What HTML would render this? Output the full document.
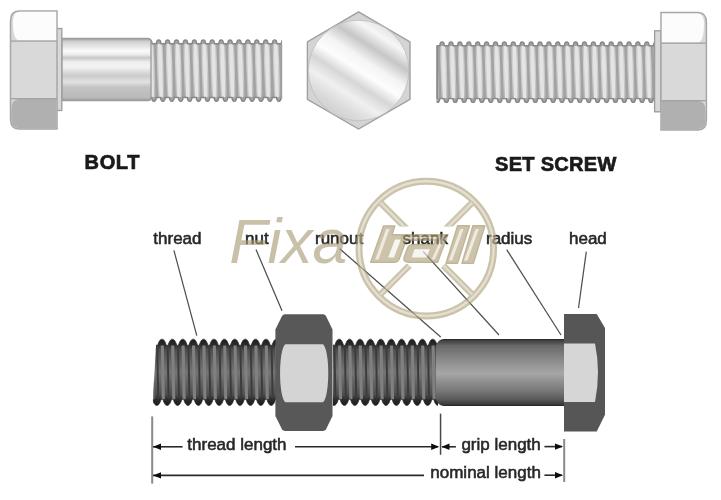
<!DOCTYPE html><html><head><meta charset="utf-8"><style>
html,body{margin:0;padding:0;background:#fff;width:721px;height:500px;overflow:hidden}
svg{display:block}
text{font-family:"Liberation Sans",sans-serif}
</style></head><body>
<svg width="721" height="500" viewBox="0 0 721 500">
<defs>
<filter id="soft" x="-2%" y="-2%" width="104%" height="104%"><feGaussianBlur stdDeviation="0.7"/></filter>
<linearGradient id="shankT" x1="0" y1="0" x2="0" y2="1">
<stop offset="0" stop-color="#a0a0a0"/><stop offset="0.05" stop-color="#d0d0d0"/>
<stop offset="0.12" stop-color="#e4e4e4"/><stop offset="0.2" stop-color="#fafafa"/>
<stop offset="0.26" stop-color="#ececec"/><stop offset="0.31" stop-color="#c8c8c8"/>
<stop offset="0.38" stop-color="#eeeeee"/><stop offset="0.46" stop-color="#f2f2f2"/>
<stop offset="0.6" stop-color="#cbcbcb"/><stop offset="0.7" stop-color="#e2e2e2"/>
<stop offset="0.78" stop-color="#c4c4c4"/><stop offset="0.95" stop-color="#bababa"/>
<stop offset="1" stop-color="#999"/>
</linearGradient>
<linearGradient id="thrT" x1="0" y1="0" x2="0" y2="1">
<stop offset="0" stop-color="#a8a8a8"/><stop offset="0.12" stop-color="#c4c4c4"/><stop offset="0.35" stop-color="#d2d2d2"/>
<stop offset="0.65" stop-color="#cacaca"/><stop offset="0.88" stop-color="#bcbcbc"/><stop offset="1" stop-color="#9c9c9c"/>
</linearGradient>
<linearGradient id="hexC" gradientUnits="userSpaceOnUse" x1="386.1" y1="27.7" x2="331.1" y2="113.3">
<stop offset="0" stop-color="#e4e4e4"/><stop offset="0.1" stop-color="#f6f6f6"/>
<stop offset="0.24" stop-color="#c6c6c6"/><stop offset="0.38" stop-color="#f4f4f4"/>
<stop offset="0.5" stop-color="#fdfdfd"/><stop offset="0.62" stop-color="#d6d6d6"/>
<stop offset="0.75" stop-color="#f0f0f0"/><stop offset="0.88" stop-color="#dcdcdc"/>
<stop offset="1" stop-color="#cfcfcf"/>
</linearGradient>
<linearGradient id="shankB" x1="0" y1="0" x2="0" y2="1">
<stop offset="0" stop-color="#262626"/><stop offset="0.03" stop-color="#444"/>
<stop offset="0.1" stop-color="#686868"/><stop offset="0.25" stop-color="#808080"/>
<stop offset="0.42" stop-color="#9a9a9a"/><stop offset="0.52" stop-color="#a6a6a6"/>
<stop offset="0.62" stop-color="#929292"/><stop offset="0.78" stop-color="#767676"/>
<stop offset="0.9" stop-color="#5a5a5a"/><stop offset="0.97" stop-color="#3c3c3c"/>
<stop offset="1" stop-color="#262626"/>
</linearGradient>
<linearGradient id="thrB" x1="0" y1="0" x2="0" y2="1">
<stop offset="0" stop-color="#1e1e1e"/><stop offset="0.09" stop-color="#2c2c2c"/><stop offset="0.16" stop-color="#4e4e4e"/><stop offset="0.5" stop-color="#747474"/>
<stop offset="0.84" stop-color="#4e4e4e"/><stop offset="0.91" stop-color="#2c2c2c"/><stop offset="1" stop-color="#1e1e1e"/>
</linearGradient>
</defs>
<g filter="url(#soft)">

<g id="bolt">
<clipPath id="thr1"><path d="M150.00,38 H282.00 L282.00,45.8 V95.5 L282.00,103.3 H150.00 Z"/></clipPath>
<clipPath id="thc1"><path d="M141.08,43.80 L138.54,43.80 C138.77,40.38 139.47,40.00 140.86,40.00 C142.25,40.00 142.95,40.38 143.18,43.80 L147.46,43.80 C147.69,40.38 148.39,40.00 149.78,40.00 C151.17,40.00 151.87,40.38 152.10,43.80 L156.38,43.80 C156.61,40.38 157.31,40.00 158.70,40.00 C160.09,40.00 160.79,40.38 161.02,43.80 L165.30,43.80 C165.53,40.38 166.23,40.00 167.62,40.00 C169.01,40.00 169.71,40.38 169.94,43.80 L174.22,43.80 C174.45,40.38 175.15,40.00 176.54,40.00 C177.93,40.00 178.63,40.38 178.86,43.80 L183.14,43.80 C183.37,40.38 184.07,40.00 185.46,40.00 C186.85,40.00 187.55,40.38 187.78,43.80 L192.06,43.80 C192.29,40.38 192.99,40.00 194.38,40.00 C195.77,40.00 196.47,40.38 196.70,43.80 L200.98,43.80 C201.21,40.38 201.91,40.00 203.30,40.00 C204.69,40.00 205.39,40.38 205.62,43.80 L209.90,43.80 C210.13,40.38 210.83,40.00 212.22,40.00 C213.61,40.00 214.31,40.38 214.54,43.80 L218.82,43.80 C219.05,40.38 219.75,40.00 221.14,40.00 C222.53,40.00 223.23,40.38 223.46,43.80 L227.74,43.80 C227.97,40.38 228.67,40.00 230.06,40.00 C231.45,40.00 232.15,40.38 232.38,43.80 L236.66,43.80 C236.89,40.38 237.59,40.00 238.98,40.00 C240.37,40.00 241.07,40.38 241.30,43.80 L245.58,43.80 C245.81,40.38 246.51,40.00 247.90,40.00 C249.29,40.00 249.99,40.38 250.22,43.80 L254.50,43.80 C254.73,40.38 255.43,40.00 256.82,40.00 C258.21,40.00 258.91,40.38 259.14,43.80 L263.42,43.80 C263.65,40.38 264.35,40.00 265.74,40.00 C267.13,40.00 267.83,40.38 268.06,43.80 L272.34,43.80 C272.57,40.38 273.27,40.00 274.66,40.00 C276.05,40.00 276.75,40.38 276.98,43.80 L281.26,43.80 C281.49,40.38 282.19,40.00 283.58,40.00 C284.97,40.00 285.67,40.38 285.90,43.80 L290.92,43.80 L290.92,97.50 L290.10,97.50 C289.87,100.92 289.17,101.30 287.78,101.30 C286.39,101.30 285.69,100.92 285.46,97.50 L281.18,97.50 C280.95,100.92 280.25,101.30 278.86,101.30 C277.47,101.30 276.77,100.92 276.54,97.50 L272.26,97.50 C272.03,100.92 271.33,101.30 269.94,101.30 C268.55,101.30 267.85,100.92 267.62,97.50 L263.34,97.50 C263.11,100.92 262.41,101.30 261.02,101.30 C259.63,101.30 258.93,100.92 258.70,97.50 L254.42,97.50 C254.19,100.92 253.49,101.30 252.10,101.30 C250.71,101.30 250.01,100.92 249.78,97.50 L245.50,97.50 C245.27,100.92 244.57,101.30 243.18,101.30 C241.79,101.30 241.09,100.92 240.86,97.50 L236.58,97.50 C236.35,100.92 235.65,101.30 234.26,101.30 C232.87,101.30 232.17,100.92 231.94,97.50 L227.66,97.50 C227.43,100.92 226.73,101.30 225.34,101.30 C223.95,101.30 223.25,100.92 223.02,97.50 L218.74,97.50 C218.51,100.92 217.81,101.30 216.42,101.30 C215.03,101.30 214.33,100.92 214.10,97.50 L209.82,97.50 C209.59,100.92 208.89,101.30 207.50,101.30 C206.11,101.30 205.41,100.92 205.18,97.50 L200.90,97.50 C200.67,100.92 199.97,101.30 198.58,101.30 C197.19,101.30 196.49,100.92 196.26,97.50 L191.98,97.50 C191.75,100.92 191.05,101.30 189.66,101.30 C188.27,101.30 187.57,100.92 187.34,97.50 L183.06,97.50 C182.83,100.92 182.13,101.30 180.74,101.30 C179.35,101.30 178.65,100.92 178.42,97.50 L174.14,97.50 C173.91,100.92 173.21,101.30 171.82,101.30 C170.43,101.30 169.73,100.92 169.50,97.50 L165.22,97.50 C164.99,100.92 164.29,101.30 162.90,101.30 C161.51,101.30 160.81,100.92 160.58,97.50 L156.30,97.50 C156.07,100.92 155.37,101.30 153.98,101.30 C152.59,101.30 151.89,100.92 151.66,97.50 L147.38,97.50 C147.15,100.92 146.45,101.30 145.06,101.30 C143.67,101.30 142.97,100.92 142.74,97.50 L141.08,97.50 Z"/></clipPath>
<g clip-path="url(#thr1)">
<path d="M141.08,43.80 L138.54,43.80 C138.77,40.38 139.47,40.00 140.86,40.00 C142.25,40.00 142.95,40.38 143.18,43.80 L147.46,43.80 C147.69,40.38 148.39,40.00 149.78,40.00 C151.17,40.00 151.87,40.38 152.10,43.80 L156.38,43.80 C156.61,40.38 157.31,40.00 158.70,40.00 C160.09,40.00 160.79,40.38 161.02,43.80 L165.30,43.80 C165.53,40.38 166.23,40.00 167.62,40.00 C169.01,40.00 169.71,40.38 169.94,43.80 L174.22,43.80 C174.45,40.38 175.15,40.00 176.54,40.00 C177.93,40.00 178.63,40.38 178.86,43.80 L183.14,43.80 C183.37,40.38 184.07,40.00 185.46,40.00 C186.85,40.00 187.55,40.38 187.78,43.80 L192.06,43.80 C192.29,40.38 192.99,40.00 194.38,40.00 C195.77,40.00 196.47,40.38 196.70,43.80 L200.98,43.80 C201.21,40.38 201.91,40.00 203.30,40.00 C204.69,40.00 205.39,40.38 205.62,43.80 L209.90,43.80 C210.13,40.38 210.83,40.00 212.22,40.00 C213.61,40.00 214.31,40.38 214.54,43.80 L218.82,43.80 C219.05,40.38 219.75,40.00 221.14,40.00 C222.53,40.00 223.23,40.38 223.46,43.80 L227.74,43.80 C227.97,40.38 228.67,40.00 230.06,40.00 C231.45,40.00 232.15,40.38 232.38,43.80 L236.66,43.80 C236.89,40.38 237.59,40.00 238.98,40.00 C240.37,40.00 241.07,40.38 241.30,43.80 L245.58,43.80 C245.81,40.38 246.51,40.00 247.90,40.00 C249.29,40.00 249.99,40.38 250.22,43.80 L254.50,43.80 C254.73,40.38 255.43,40.00 256.82,40.00 C258.21,40.00 258.91,40.38 259.14,43.80 L263.42,43.80 C263.65,40.38 264.35,40.00 265.74,40.00 C267.13,40.00 267.83,40.38 268.06,43.80 L272.34,43.80 C272.57,40.38 273.27,40.00 274.66,40.00 C276.05,40.00 276.75,40.38 276.98,43.80 L281.26,43.80 C281.49,40.38 282.19,40.00 283.58,40.00 C284.97,40.00 285.67,40.38 285.90,43.80 L290.92,43.80 L290.92,97.50 L290.10,97.50 C289.87,100.92 289.17,101.30 287.78,101.30 C286.39,101.30 285.69,100.92 285.46,97.50 L281.18,97.50 C280.95,100.92 280.25,101.30 278.86,101.30 C277.47,101.30 276.77,100.92 276.54,97.50 L272.26,97.50 C272.03,100.92 271.33,101.30 269.94,101.30 C268.55,101.30 267.85,100.92 267.62,97.50 L263.34,97.50 C263.11,100.92 262.41,101.30 261.02,101.30 C259.63,101.30 258.93,100.92 258.70,97.50 L254.42,97.50 C254.19,100.92 253.49,101.30 252.10,101.30 C250.71,101.30 250.01,100.92 249.78,97.50 L245.50,97.50 C245.27,100.92 244.57,101.30 243.18,101.30 C241.79,101.30 241.09,100.92 240.86,97.50 L236.58,97.50 C236.35,100.92 235.65,101.30 234.26,101.30 C232.87,101.30 232.17,100.92 231.94,97.50 L227.66,97.50 C227.43,100.92 226.73,101.30 225.34,101.30 C223.95,101.30 223.25,100.92 223.02,97.50 L218.74,97.50 C218.51,100.92 217.81,101.30 216.42,101.30 C215.03,101.30 214.33,100.92 214.10,97.50 L209.82,97.50 C209.59,100.92 208.89,101.30 207.50,101.30 C206.11,101.30 205.41,100.92 205.18,97.50 L200.90,97.50 C200.67,100.92 199.97,101.30 198.58,101.30 C197.19,101.30 196.49,100.92 196.26,97.50 L191.98,97.50 C191.75,100.92 191.05,101.30 189.66,101.30 C188.27,101.30 187.57,100.92 187.34,97.50 L183.06,97.50 C182.83,100.92 182.13,101.30 180.74,101.30 C179.35,101.30 178.65,100.92 178.42,97.50 L174.14,97.50 C173.91,100.92 173.21,101.30 171.82,101.30 C170.43,101.30 169.73,100.92 169.50,97.50 L165.22,97.50 C164.99,100.92 164.29,101.30 162.90,101.30 C161.51,101.30 160.81,100.92 160.58,97.50 L156.30,97.50 C156.07,100.92 155.37,101.30 153.98,101.30 C152.59,101.30 151.89,100.92 151.66,97.50 L147.38,97.50 C147.15,100.92 146.45,101.30 145.06,101.30 C143.67,101.30 142.97,100.92 142.74,97.50 L141.08,97.50 Z" fill="url(#thrT)"/>
<g clip-path="url(#thc1)">
<polygon points="140.06,43.8 143.63,43.8 145.13,97.5 141.56,97.5" fill="#e4e4e4"/>
<polygon points="144.96,43.8 147.64,43.8 149.14,97.5 146.46,97.5" fill="#a2a2a2"/>
<polygon points="148.98,43.8 152.55,43.8 154.05,97.5 150.48,97.5" fill="#e4e4e4"/>
<polygon points="153.88,43.8 156.56,43.8 158.06,97.5 155.38,97.5" fill="#a2a2a2"/>
<polygon points="157.90,43.8 161.47,43.8 162.97,97.5 159.40,97.5" fill="#e4e4e4"/>
<polygon points="162.80,43.8 165.48,43.8 166.98,97.5 164.30,97.5" fill="#a2a2a2"/>
<polygon points="166.82,43.8 170.39,43.8 171.89,97.5 168.32,97.5" fill="#e4e4e4"/>
<polygon points="171.72,43.8 174.40,43.8 175.90,97.5 173.22,97.5" fill="#a2a2a2"/>
<polygon points="175.74,43.8 179.31,43.8 180.81,97.5 177.24,97.5" fill="#e4e4e4"/>
<polygon points="180.64,43.8 183.32,43.8 184.82,97.5 182.14,97.5" fill="#a2a2a2"/>
<polygon points="184.66,43.8 188.23,43.8 189.73,97.5 186.16,97.5" fill="#e4e4e4"/>
<polygon points="189.56,43.8 192.24,43.8 193.74,97.5 191.06,97.5" fill="#a2a2a2"/>
<polygon points="193.58,43.8 197.15,43.8 198.65,97.5 195.08,97.5" fill="#e4e4e4"/>
<polygon points="198.48,43.8 201.16,43.8 202.66,97.5 199.98,97.5" fill="#a2a2a2"/>
<polygon points="202.50,43.8 206.07,43.8 207.57,97.5 204.00,97.5" fill="#e4e4e4"/>
<polygon points="207.40,43.8 210.08,43.8 211.58,97.5 208.90,97.5" fill="#a2a2a2"/>
<polygon points="211.42,43.8 214.99,43.8 216.49,97.5 212.92,97.5" fill="#e4e4e4"/>
<polygon points="216.32,43.8 219.00,43.8 220.50,97.5 217.82,97.5" fill="#a2a2a2"/>
<polygon points="220.34,43.8 223.91,43.8 225.41,97.5 221.84,97.5" fill="#e4e4e4"/>
<polygon points="225.24,43.8 227.92,43.8 229.42,97.5 226.74,97.5" fill="#a2a2a2"/>
<polygon points="229.26,43.8 232.83,43.8 234.33,97.5 230.76,97.5" fill="#e4e4e4"/>
<polygon points="234.16,43.8 236.84,43.8 238.34,97.5 235.66,97.5" fill="#a2a2a2"/>
<polygon points="238.18,43.8 241.75,43.8 243.25,97.5 239.68,97.5" fill="#e4e4e4"/>
<polygon points="243.08,43.8 245.76,43.8 247.26,97.5 244.58,97.5" fill="#a2a2a2"/>
<polygon points="247.10,43.8 250.67,43.8 252.17,97.5 248.60,97.5" fill="#e4e4e4"/>
<polygon points="252.00,43.8 254.68,43.8 256.18,97.5 253.50,97.5" fill="#a2a2a2"/>
<polygon points="256.02,43.8 259.59,43.8 261.09,97.5 257.52,97.5" fill="#e4e4e4"/>
<polygon points="260.92,43.8 263.60,43.8 265.10,97.5 262.42,97.5" fill="#a2a2a2"/>
<polygon points="264.94,43.8 268.51,43.8 270.01,97.5 266.44,97.5" fill="#e4e4e4"/>
<polygon points="269.84,43.8 272.52,43.8 274.02,97.5 271.34,97.5" fill="#a2a2a2"/>
<polygon points="273.86,43.8 277.43,43.8 278.93,97.5 275.36,97.5" fill="#e4e4e4"/>
<polygon points="278.76,43.8 281.44,43.8 282.94,97.5 280.26,97.5" fill="#a2a2a2"/>
<polygon points="282.78,43.8 286.35,43.8 287.85,97.5 284.28,97.5" fill="#e4e4e4"/>
<polygon points="287.68,43.8 290.36,43.8 291.86,97.5 289.18,97.5" fill="#a2a2a2"/>

<rect x="141.08" y="39" width="149.84" height="5.0" fill="#a4a4a4"/>
<rect x="141.08" y="97.3" width="149.84" height="5.0" fill="#a4a4a4"/>
</g>
<path d="M141.08,43.80 L138.54,43.80 C138.77,40.38 139.47,40.00 140.86,40.00 C142.25,40.00 142.95,40.38 143.18,43.80 L147.46,43.80 C147.69,40.38 148.39,40.00 149.78,40.00 C151.17,40.00 151.87,40.38 152.10,43.80 L156.38,43.80 C156.61,40.38 157.31,40.00 158.70,40.00 C160.09,40.00 160.79,40.38 161.02,43.80 L165.30,43.80 C165.53,40.38 166.23,40.00 167.62,40.00 C169.01,40.00 169.71,40.38 169.94,43.80 L174.22,43.80 C174.45,40.38 175.15,40.00 176.54,40.00 C177.93,40.00 178.63,40.38 178.86,43.80 L183.14,43.80 C183.37,40.38 184.07,40.00 185.46,40.00 C186.85,40.00 187.55,40.38 187.78,43.80 L192.06,43.80 C192.29,40.38 192.99,40.00 194.38,40.00 C195.77,40.00 196.47,40.38 196.70,43.80 L200.98,43.80 C201.21,40.38 201.91,40.00 203.30,40.00 C204.69,40.00 205.39,40.38 205.62,43.80 L209.90,43.80 C210.13,40.38 210.83,40.00 212.22,40.00 C213.61,40.00 214.31,40.38 214.54,43.80 L218.82,43.80 C219.05,40.38 219.75,40.00 221.14,40.00 C222.53,40.00 223.23,40.38 223.46,43.80 L227.74,43.80 C227.97,40.38 228.67,40.00 230.06,40.00 C231.45,40.00 232.15,40.38 232.38,43.80 L236.66,43.80 C236.89,40.38 237.59,40.00 238.98,40.00 C240.37,40.00 241.07,40.38 241.30,43.80 L245.58,43.80 C245.81,40.38 246.51,40.00 247.90,40.00 C249.29,40.00 249.99,40.38 250.22,43.80 L254.50,43.80 C254.73,40.38 255.43,40.00 256.82,40.00 C258.21,40.00 258.91,40.38 259.14,43.80 L263.42,43.80 C263.65,40.38 264.35,40.00 265.74,40.00 C267.13,40.00 267.83,40.38 268.06,43.80 L272.34,43.80 C272.57,40.38 273.27,40.00 274.66,40.00 C276.05,40.00 276.75,40.38 276.98,43.80 L281.26,43.80 C281.49,40.38 282.19,40.00 283.58,40.00 C284.97,40.00 285.67,40.38 285.90,43.80 L290.92,43.80 L290.92,97.50 L290.10,97.50 C289.87,100.92 289.17,101.30 287.78,101.30 C286.39,101.30 285.69,100.92 285.46,97.50 L281.18,97.50 C280.95,100.92 280.25,101.30 278.86,101.30 C277.47,101.30 276.77,100.92 276.54,97.50 L272.26,97.50 C272.03,100.92 271.33,101.30 269.94,101.30 C268.55,101.30 267.85,100.92 267.62,97.50 L263.34,97.50 C263.11,100.92 262.41,101.30 261.02,101.30 C259.63,101.30 258.93,100.92 258.70,97.50 L254.42,97.50 C254.19,100.92 253.49,101.30 252.10,101.30 C250.71,101.30 250.01,100.92 249.78,97.50 L245.50,97.50 C245.27,100.92 244.57,101.30 243.18,101.30 C241.79,101.30 241.09,100.92 240.86,97.50 L236.58,97.50 C236.35,100.92 235.65,101.30 234.26,101.30 C232.87,101.30 232.17,100.92 231.94,97.50 L227.66,97.50 C227.43,100.92 226.73,101.30 225.34,101.30 C223.95,101.30 223.25,100.92 223.02,97.50 L218.74,97.50 C218.51,100.92 217.81,101.30 216.42,101.30 C215.03,101.30 214.33,100.92 214.10,97.50 L209.82,97.50 C209.59,100.92 208.89,101.30 207.50,101.30 C206.11,101.30 205.41,100.92 205.18,97.50 L200.90,97.50 C200.67,100.92 199.97,101.30 198.58,101.30 C197.19,101.30 196.49,100.92 196.26,97.50 L191.98,97.50 C191.75,100.92 191.05,101.30 189.66,101.30 C188.27,101.30 187.57,100.92 187.34,97.50 L183.06,97.50 C182.83,100.92 182.13,101.30 180.74,101.30 C179.35,101.30 178.65,100.92 178.42,97.50 L174.14,97.50 C173.91,100.92 173.21,101.30 171.82,101.30 C170.43,101.30 169.73,100.92 169.50,97.50 L165.22,97.50 C164.99,100.92 164.29,101.30 162.90,101.30 C161.51,101.30 160.81,100.92 160.58,97.50 L156.30,97.50 C156.07,100.92 155.37,101.30 153.98,101.30 C152.59,101.30 151.89,100.92 151.66,97.50 L147.38,97.50 C147.15,100.92 146.45,101.30 145.06,101.30 C143.67,101.30 142.97,100.92 142.74,97.50 L141.08,97.50 Z" fill="none" stroke="#888888" stroke-width="1.4"/>
</g>
<rect x="281" y="43" width="1.2" height="56" fill="#a0a0a0"/>
<path d="M61.8,38.5 H148 Q151,38.5 151,42 V97 Q151,100.6 148,100.6 H61.8Z" fill="url(#shankT)" stroke="#9c9c9c" stroke-width="1.3"/>
<rect x="56" y="28.5" width="5.8" height="82" fill="#d8d8d8" stroke="#9c9c9c" stroke-width="1.3"/>
<path d="M57,11 H19 Q10.5,11 10.5,21 V119 Q10.5,129 19,129 H57Z" fill="#d9d9d9" stroke="#a6a6a6" stroke-width="1.5"/>
<path d="M56.2,11.8 H19.5 Q13,11.8 13,22 Q13,40.5 19.5,40.5 H56.2Z" fill="#fcfcfc"/>
<path d="M56.2,99 H19.5 Q11.3,99 11.3,110 V119 Q11.3,128.2 19.5,128.2 H56.2Z" fill="#b0b0b0"/>
<rect x="11" y="40.3" width="46" height="1.6" fill="#acacac"/>
<rect x="11" y="98" width="46" height="1.4" fill="#a4a4a4"/>
</g>
<g id="hex">
<polygon points="358.6,11.8 410,42 410,99.4 358.6,129 307.4,99.4 307.4,42" fill="#d4d4d4" stroke="#a0a0a0" stroke-width="1.4"/>
<circle cx="358.6" cy="70.5" r="50.3" fill="url(#hexC)" stroke="#bdbdbd" stroke-width="0.8"/>
</g>
<g id="setscrew">
<clipPath id="thr2"><path d="M436.70,40 H655.00 L655.00,47.8 V96.60000000000001 L655.00,104.4 H436.70 Z"/></clipPath>
<clipPath id="thc2"><path d="M427.80,45.80 L421.99,45.80 C422.22,42.38 422.91,42.00 424.30,42.00 C425.69,42.00 426.38,42.38 426.61,45.80 L430.89,45.80 C431.12,42.38 431.81,42.00 433.20,42.00 C434.59,42.00 435.28,42.38 435.51,45.80 L439.79,45.80 C440.02,42.38 440.71,42.00 442.10,42.00 C443.49,42.00 444.18,42.38 444.41,45.80 L448.69,45.80 C448.92,42.38 449.61,42.00 451.00,42.00 C452.39,42.00 453.08,42.38 453.31,45.80 L457.59,45.80 C457.82,42.38 458.51,42.00 459.90,42.00 C461.29,42.00 461.98,42.38 462.21,45.80 L466.49,45.80 C466.72,42.38 467.41,42.00 468.80,42.00 C470.19,42.00 470.88,42.38 471.11,45.80 L475.39,45.80 C475.62,42.38 476.31,42.00 477.70,42.00 C479.09,42.00 479.78,42.38 480.01,45.80 L484.29,45.80 C484.52,42.38 485.21,42.00 486.60,42.00 C487.99,42.00 488.68,42.38 488.91,45.80 L493.19,45.80 C493.42,42.38 494.11,42.00 495.50,42.00 C496.89,42.00 497.58,42.38 497.81,45.80 L502.09,45.80 C502.32,42.38 503.01,42.00 504.40,42.00 C505.79,42.00 506.48,42.38 506.71,45.80 L510.99,45.80 C511.22,42.38 511.91,42.00 513.30,42.00 C514.69,42.00 515.38,42.38 515.61,45.80 L519.89,45.80 C520.12,42.38 520.81,42.00 522.20,42.00 C523.59,42.00 524.28,42.38 524.51,45.80 L528.79,45.80 C529.02,42.38 529.71,42.00 531.10,42.00 C532.49,42.00 533.18,42.38 533.41,45.80 L537.69,45.80 C537.92,42.38 538.61,42.00 540.00,42.00 C541.39,42.00 542.08,42.38 542.31,45.80 L546.59,45.80 C546.82,42.38 547.51,42.00 548.90,42.00 C550.29,42.00 550.98,42.38 551.21,45.80 L555.49,45.80 C555.72,42.38 556.41,42.00 557.80,42.00 C559.19,42.00 559.88,42.38 560.11,45.80 L564.39,45.80 C564.62,42.38 565.31,42.00 566.70,42.00 C568.09,42.00 568.78,42.38 569.01,45.80 L573.29,45.80 C573.52,42.38 574.21,42.00 575.60,42.00 C576.99,42.00 577.68,42.38 577.91,45.80 L582.19,45.80 C582.42,42.38 583.11,42.00 584.50,42.00 C585.89,42.00 586.58,42.38 586.81,45.80 L591.09,45.80 C591.32,42.38 592.01,42.00 593.40,42.00 C594.79,42.00 595.48,42.38 595.71,45.80 L599.99,45.80 C600.22,42.38 600.91,42.00 602.30,42.00 C603.69,42.00 604.38,42.38 604.61,45.80 L608.89,45.80 C609.12,42.38 609.81,42.00 611.20,42.00 C612.59,42.00 613.28,42.38 613.51,45.80 L617.79,45.80 C618.02,42.38 618.71,42.00 620.10,42.00 C621.49,42.00 622.18,42.38 622.41,45.80 L626.69,45.80 C626.92,42.38 627.61,42.00 629.00,42.00 C630.39,42.00 631.08,42.38 631.31,45.80 L635.59,45.80 C635.82,42.38 636.51,42.00 637.90,42.00 C639.29,42.00 639.98,42.38 640.21,45.80 L644.49,45.80 C644.72,42.38 645.41,42.00 646.80,42.00 C648.19,42.00 648.88,42.38 649.11,45.80 L653.39,45.80 C653.62,42.38 654.31,42.00 655.70,42.00 C657.09,42.00 657.78,42.38 658.01,45.80 L663.90,45.80 L663.90,98.60 L662.21,98.60 C661.98,102.02 661.29,102.40 659.90,102.40 C658.51,102.40 657.82,102.02 657.59,98.60 L653.31,98.60 C653.08,102.02 652.39,102.40 651.00,102.40 C649.61,102.40 648.92,102.02 648.69,98.60 L644.41,98.60 C644.18,102.02 643.49,102.40 642.10,102.40 C640.71,102.40 640.02,102.02 639.79,98.60 L635.51,98.60 C635.28,102.02 634.59,102.40 633.20,102.40 C631.81,102.40 631.12,102.02 630.89,98.60 L626.61,98.60 C626.38,102.02 625.69,102.40 624.30,102.40 C622.91,102.40 622.22,102.02 621.99,98.60 L617.71,98.60 C617.48,102.02 616.79,102.40 615.40,102.40 C614.01,102.40 613.32,102.02 613.09,98.60 L608.81,98.60 C608.58,102.02 607.89,102.40 606.50,102.40 C605.11,102.40 604.42,102.02 604.19,98.60 L599.91,98.60 C599.68,102.02 598.99,102.40 597.60,102.40 C596.21,102.40 595.52,102.02 595.29,98.60 L591.01,98.60 C590.78,102.02 590.09,102.40 588.70,102.40 C587.31,102.40 586.62,102.02 586.39,98.60 L582.11,98.60 C581.88,102.02 581.19,102.40 579.80,102.40 C578.41,102.40 577.72,102.02 577.49,98.60 L573.21,98.60 C572.98,102.02 572.29,102.40 570.90,102.40 C569.51,102.40 568.82,102.02 568.59,98.60 L564.31,98.60 C564.08,102.02 563.39,102.40 562.00,102.40 C560.61,102.40 559.92,102.02 559.69,98.60 L555.41,98.60 C555.18,102.02 554.49,102.40 553.10,102.40 C551.71,102.40 551.02,102.02 550.79,98.60 L546.51,98.60 C546.28,102.02 545.59,102.40 544.20,102.40 C542.81,102.40 542.12,102.02 541.89,98.60 L537.61,98.60 C537.38,102.02 536.69,102.40 535.30,102.40 C533.91,102.40 533.22,102.02 532.99,98.60 L528.71,98.60 C528.48,102.02 527.79,102.40 526.40,102.40 C525.01,102.40 524.32,102.02 524.09,98.60 L519.81,98.60 C519.58,102.02 518.89,102.40 517.50,102.40 C516.11,102.40 515.42,102.02 515.19,98.60 L510.91,98.60 C510.68,102.02 509.99,102.40 508.60,102.40 C507.21,102.40 506.52,102.02 506.29,98.60 L502.01,98.60 C501.78,102.02 501.09,102.40 499.70,102.40 C498.31,102.40 497.62,102.02 497.39,98.60 L493.11,98.60 C492.88,102.02 492.19,102.40 490.80,102.40 C489.41,102.40 488.72,102.02 488.49,98.60 L484.21,98.60 C483.98,102.02 483.29,102.40 481.90,102.40 C480.51,102.40 479.82,102.02 479.59,98.60 L475.31,98.60 C475.08,102.02 474.39,102.40 473.00,102.40 C471.61,102.40 470.92,102.02 470.69,98.60 L466.41,98.60 C466.18,102.02 465.49,102.40 464.10,102.40 C462.71,102.40 462.02,102.02 461.79,98.60 L457.51,98.60 C457.28,102.02 456.59,102.40 455.20,102.40 C453.81,102.40 453.12,102.02 452.89,98.60 L448.61,98.60 C448.38,102.02 447.69,102.40 446.30,102.40 C444.91,102.40 444.22,102.02 443.99,98.60 L439.71,98.60 C439.48,102.02 438.79,102.40 437.40,102.40 C436.01,102.40 435.32,102.02 435.09,98.60 L430.81,98.60 C430.58,102.02 429.89,102.40 428.50,102.40 C427.11,102.40 426.42,102.02 426.19,98.60 L427.80,98.60 Z"/></clipPath>
<g clip-path="url(#thr2)">
<path d="M427.80,45.80 L421.99,45.80 C422.22,42.38 422.91,42.00 424.30,42.00 C425.69,42.00 426.38,42.38 426.61,45.80 L430.89,45.80 C431.12,42.38 431.81,42.00 433.20,42.00 C434.59,42.00 435.28,42.38 435.51,45.80 L439.79,45.80 C440.02,42.38 440.71,42.00 442.10,42.00 C443.49,42.00 444.18,42.38 444.41,45.80 L448.69,45.80 C448.92,42.38 449.61,42.00 451.00,42.00 C452.39,42.00 453.08,42.38 453.31,45.80 L457.59,45.80 C457.82,42.38 458.51,42.00 459.90,42.00 C461.29,42.00 461.98,42.38 462.21,45.80 L466.49,45.80 C466.72,42.38 467.41,42.00 468.80,42.00 C470.19,42.00 470.88,42.38 471.11,45.80 L475.39,45.80 C475.62,42.38 476.31,42.00 477.70,42.00 C479.09,42.00 479.78,42.38 480.01,45.80 L484.29,45.80 C484.52,42.38 485.21,42.00 486.60,42.00 C487.99,42.00 488.68,42.38 488.91,45.80 L493.19,45.80 C493.42,42.38 494.11,42.00 495.50,42.00 C496.89,42.00 497.58,42.38 497.81,45.80 L502.09,45.80 C502.32,42.38 503.01,42.00 504.40,42.00 C505.79,42.00 506.48,42.38 506.71,45.80 L510.99,45.80 C511.22,42.38 511.91,42.00 513.30,42.00 C514.69,42.00 515.38,42.38 515.61,45.80 L519.89,45.80 C520.12,42.38 520.81,42.00 522.20,42.00 C523.59,42.00 524.28,42.38 524.51,45.80 L528.79,45.80 C529.02,42.38 529.71,42.00 531.10,42.00 C532.49,42.00 533.18,42.38 533.41,45.80 L537.69,45.80 C537.92,42.38 538.61,42.00 540.00,42.00 C541.39,42.00 542.08,42.38 542.31,45.80 L546.59,45.80 C546.82,42.38 547.51,42.00 548.90,42.00 C550.29,42.00 550.98,42.38 551.21,45.80 L555.49,45.80 C555.72,42.38 556.41,42.00 557.80,42.00 C559.19,42.00 559.88,42.38 560.11,45.80 L564.39,45.80 C564.62,42.38 565.31,42.00 566.70,42.00 C568.09,42.00 568.78,42.38 569.01,45.80 L573.29,45.80 C573.52,42.38 574.21,42.00 575.60,42.00 C576.99,42.00 577.68,42.38 577.91,45.80 L582.19,45.80 C582.42,42.38 583.11,42.00 584.50,42.00 C585.89,42.00 586.58,42.38 586.81,45.80 L591.09,45.80 C591.32,42.38 592.01,42.00 593.40,42.00 C594.79,42.00 595.48,42.38 595.71,45.80 L599.99,45.80 C600.22,42.38 600.91,42.00 602.30,42.00 C603.69,42.00 604.38,42.38 604.61,45.80 L608.89,45.80 C609.12,42.38 609.81,42.00 611.20,42.00 C612.59,42.00 613.28,42.38 613.51,45.80 L617.79,45.80 C618.02,42.38 618.71,42.00 620.10,42.00 C621.49,42.00 622.18,42.38 622.41,45.80 L626.69,45.80 C626.92,42.38 627.61,42.00 629.00,42.00 C630.39,42.00 631.08,42.38 631.31,45.80 L635.59,45.80 C635.82,42.38 636.51,42.00 637.90,42.00 C639.29,42.00 639.98,42.38 640.21,45.80 L644.49,45.80 C644.72,42.38 645.41,42.00 646.80,42.00 C648.19,42.00 648.88,42.38 649.11,45.80 L653.39,45.80 C653.62,42.38 654.31,42.00 655.70,42.00 C657.09,42.00 657.78,42.38 658.01,45.80 L663.90,45.80 L663.90,98.60 L662.21,98.60 C661.98,102.02 661.29,102.40 659.90,102.40 C658.51,102.40 657.82,102.02 657.59,98.60 L653.31,98.60 C653.08,102.02 652.39,102.40 651.00,102.40 C649.61,102.40 648.92,102.02 648.69,98.60 L644.41,98.60 C644.18,102.02 643.49,102.40 642.10,102.40 C640.71,102.40 640.02,102.02 639.79,98.60 L635.51,98.60 C635.28,102.02 634.59,102.40 633.20,102.40 C631.81,102.40 631.12,102.02 630.89,98.60 L626.61,98.60 C626.38,102.02 625.69,102.40 624.30,102.40 C622.91,102.40 622.22,102.02 621.99,98.60 L617.71,98.60 C617.48,102.02 616.79,102.40 615.40,102.40 C614.01,102.40 613.32,102.02 613.09,98.60 L608.81,98.60 C608.58,102.02 607.89,102.40 606.50,102.40 C605.11,102.40 604.42,102.02 604.19,98.60 L599.91,98.60 C599.68,102.02 598.99,102.40 597.60,102.40 C596.21,102.40 595.52,102.02 595.29,98.60 L591.01,98.60 C590.78,102.02 590.09,102.40 588.70,102.40 C587.31,102.40 586.62,102.02 586.39,98.60 L582.11,98.60 C581.88,102.02 581.19,102.40 579.80,102.40 C578.41,102.40 577.72,102.02 577.49,98.60 L573.21,98.60 C572.98,102.02 572.29,102.40 570.90,102.40 C569.51,102.40 568.82,102.02 568.59,98.60 L564.31,98.60 C564.08,102.02 563.39,102.40 562.00,102.40 C560.61,102.40 559.92,102.02 559.69,98.60 L555.41,98.60 C555.18,102.02 554.49,102.40 553.10,102.40 C551.71,102.40 551.02,102.02 550.79,98.60 L546.51,98.60 C546.28,102.02 545.59,102.40 544.20,102.40 C542.81,102.40 542.12,102.02 541.89,98.60 L537.61,98.60 C537.38,102.02 536.69,102.40 535.30,102.40 C533.91,102.40 533.22,102.02 532.99,98.60 L528.71,98.60 C528.48,102.02 527.79,102.40 526.40,102.40 C525.01,102.40 524.32,102.02 524.09,98.60 L519.81,98.60 C519.58,102.02 518.89,102.40 517.50,102.40 C516.11,102.40 515.42,102.02 515.19,98.60 L510.91,98.60 C510.68,102.02 509.99,102.40 508.60,102.40 C507.21,102.40 506.52,102.02 506.29,98.60 L502.01,98.60 C501.78,102.02 501.09,102.40 499.70,102.40 C498.31,102.40 497.62,102.02 497.39,98.60 L493.11,98.60 C492.88,102.02 492.19,102.40 490.80,102.40 C489.41,102.40 488.72,102.02 488.49,98.60 L484.21,98.60 C483.98,102.02 483.29,102.40 481.90,102.40 C480.51,102.40 479.82,102.02 479.59,98.60 L475.31,98.60 C475.08,102.02 474.39,102.40 473.00,102.40 C471.61,102.40 470.92,102.02 470.69,98.60 L466.41,98.60 C466.18,102.02 465.49,102.40 464.10,102.40 C462.71,102.40 462.02,102.02 461.79,98.60 L457.51,98.60 C457.28,102.02 456.59,102.40 455.20,102.40 C453.81,102.40 453.12,102.02 452.89,98.60 L448.61,98.60 C448.38,102.02 447.69,102.40 446.30,102.40 C444.91,102.40 444.22,102.02 443.99,98.60 L439.71,98.60 C439.48,102.02 438.79,102.40 437.40,102.40 C436.01,102.40 435.32,102.02 435.09,98.60 L430.81,98.60 C430.58,102.02 429.89,102.40 428.50,102.40 C427.11,102.40 426.42,102.02 426.19,98.60 L427.80,98.60 Z" fill="url(#thrT)"/>
<g clip-path="url(#thc2)">
<polygon points="423.50,45.8 427.06,45.8 428.56,98.60000000000001 425.00,98.60000000000001" fill="#e4e4e4"/>
<polygon points="428.39,45.8 431.06,45.8 432.56,98.60000000000001 429.89,98.60000000000001" fill="#a2a2a2"/>
<polygon points="432.40,45.8 435.96,45.8 437.46,98.60000000000001 433.90,98.60000000000001" fill="#e4e4e4"/>
<polygon points="437.29,45.8 439.96,45.8 441.46,98.60000000000001 438.79,98.60000000000001" fill="#a2a2a2"/>
<polygon points="441.30,45.8 444.86,45.8 446.36,98.60000000000001 442.80,98.60000000000001" fill="#e4e4e4"/>
<polygon points="446.19,45.8 448.86,45.8 450.36,98.60000000000001 447.69,98.60000000000001" fill="#a2a2a2"/>
<polygon points="450.20,45.8 453.76,45.8 455.26,98.60000000000001 451.70,98.60000000000001" fill="#e4e4e4"/>
<polygon points="455.09,45.8 457.76,45.8 459.26,98.60000000000001 456.59,98.60000000000001" fill="#a2a2a2"/>
<polygon points="459.10,45.8 462.66,45.8 464.16,98.60000000000001 460.60,98.60000000000001" fill="#e4e4e4"/>
<polygon points="463.99,45.8 466.66,45.8 468.16,98.60000000000001 465.49,98.60000000000001" fill="#a2a2a2"/>
<polygon points="468.00,45.8 471.56,45.8 473.06,98.60000000000001 469.50,98.60000000000001" fill="#e4e4e4"/>
<polygon points="472.89,45.8 475.56,45.8 477.06,98.60000000000001 474.39,98.60000000000001" fill="#a2a2a2"/>
<polygon points="476.90,45.8 480.46,45.8 481.96,98.60000000000001 478.40,98.60000000000001" fill="#e4e4e4"/>
<polygon points="481.79,45.8 484.46,45.8 485.96,98.60000000000001 483.29,98.60000000000001" fill="#a2a2a2"/>
<polygon points="485.80,45.8 489.36,45.8 490.86,98.60000000000001 487.30,98.60000000000001" fill="#e4e4e4"/>
<polygon points="490.69,45.8 493.36,45.8 494.86,98.60000000000001 492.19,98.60000000000001" fill="#a2a2a2"/>
<polygon points="494.70,45.8 498.26,45.8 499.76,98.60000000000001 496.20,98.60000000000001" fill="#e4e4e4"/>
<polygon points="499.59,45.8 502.26,45.8 503.76,98.60000000000001 501.09,98.60000000000001" fill="#a2a2a2"/>
<polygon points="503.60,45.8 507.16,45.8 508.66,98.60000000000001 505.10,98.60000000000001" fill="#e4e4e4"/>
<polygon points="508.49,45.8 511.16,45.8 512.66,98.60000000000001 509.99,98.60000000000001" fill="#a2a2a2"/>
<polygon points="512.50,45.8 516.06,45.8 517.56,98.60000000000001 514.00,98.60000000000001" fill="#e4e4e4"/>
<polygon points="517.39,45.8 520.06,45.8 521.56,98.60000000000001 518.89,98.60000000000001" fill="#a2a2a2"/>
<polygon points="521.40,45.8 524.96,45.8 526.46,98.60000000000001 522.90,98.60000000000001" fill="#e4e4e4"/>
<polygon points="526.29,45.8 528.96,45.8 530.46,98.60000000000001 527.79,98.60000000000001" fill="#a2a2a2"/>
<polygon points="530.30,45.8 533.86,45.8 535.36,98.60000000000001 531.80,98.60000000000001" fill="#e4e4e4"/>
<polygon points="535.19,45.8 537.86,45.8 539.36,98.60000000000001 536.69,98.60000000000001" fill="#a2a2a2"/>
<polygon points="539.20,45.8 542.76,45.8 544.26,98.60000000000001 540.70,98.60000000000001" fill="#e4e4e4"/>
<polygon points="544.09,45.8 546.76,45.8 548.26,98.60000000000001 545.59,98.60000000000001" fill="#a2a2a2"/>
<polygon points="548.10,45.8 551.66,45.8 553.16,98.60000000000001 549.60,98.60000000000001" fill="#e4e4e4"/>
<polygon points="552.99,45.8 555.66,45.8 557.16,98.60000000000001 554.49,98.60000000000001" fill="#a2a2a2"/>
<polygon points="557.00,45.8 560.56,45.8 562.06,98.60000000000001 558.50,98.60000000000001" fill="#e4e4e4"/>
<polygon points="561.89,45.8 564.56,45.8 566.06,98.60000000000001 563.39,98.60000000000001" fill="#a2a2a2"/>
<polygon points="565.90,45.8 569.46,45.8 570.96,98.60000000000001 567.40,98.60000000000001" fill="#e4e4e4"/>
<polygon points="570.79,45.8 573.46,45.8 574.96,98.60000000000001 572.29,98.60000000000001" fill="#a2a2a2"/>
<polygon points="574.80,45.8 578.36,45.8 579.86,98.60000000000001 576.30,98.60000000000001" fill="#e4e4e4"/>
<polygon points="579.69,45.8 582.36,45.8 583.86,98.60000000000001 581.19,98.60000000000001" fill="#a2a2a2"/>
<polygon points="583.70,45.8 587.26,45.8 588.76,98.60000000000001 585.20,98.60000000000001" fill="#e4e4e4"/>
<polygon points="588.59,45.8 591.26,45.8 592.76,98.60000000000001 590.09,98.60000000000001" fill="#a2a2a2"/>
<polygon points="592.60,45.8 596.16,45.8 597.66,98.60000000000001 594.10,98.60000000000001" fill="#e4e4e4"/>
<polygon points="597.49,45.8 600.16,45.8 601.66,98.60000000000001 598.99,98.60000000000001" fill="#a2a2a2"/>
<polygon points="601.50,45.8 605.06,45.8 606.56,98.60000000000001 603.00,98.60000000000001" fill="#e4e4e4"/>
<polygon points="606.39,45.8 609.06,45.8 610.56,98.60000000000001 607.89,98.60000000000001" fill="#a2a2a2"/>
<polygon points="610.40,45.8 613.96,45.8 615.46,98.60000000000001 611.90,98.60000000000001" fill="#e4e4e4"/>
<polygon points="615.29,45.8 617.96,45.8 619.46,98.60000000000001 616.79,98.60000000000001" fill="#a2a2a2"/>
<polygon points="619.30,45.8 622.86,45.8 624.36,98.60000000000001 620.80,98.60000000000001" fill="#e4e4e4"/>
<polygon points="624.19,45.8 626.86,45.8 628.36,98.60000000000001 625.69,98.60000000000001" fill="#a2a2a2"/>
<polygon points="628.20,45.8 631.76,45.8 633.26,98.60000000000001 629.70,98.60000000000001" fill="#e4e4e4"/>
<polygon points="633.09,45.8 635.76,45.8 637.26,98.60000000000001 634.59,98.60000000000001" fill="#a2a2a2"/>
<polygon points="637.10,45.8 640.66,45.8 642.16,98.60000000000001 638.60,98.60000000000001" fill="#e4e4e4"/>
<polygon points="641.99,45.8 644.66,45.8 646.16,98.60000000000001 643.49,98.60000000000001" fill="#a2a2a2"/>
<polygon points="646.00,45.8 649.56,45.8 651.06,98.60000000000001 647.50,98.60000000000001" fill="#e4e4e4"/>
<polygon points="650.89,45.8 653.56,45.8 655.06,98.60000000000001 652.39,98.60000000000001" fill="#a2a2a2"/>
<polygon points="654.90,45.8 658.46,45.8 659.96,98.60000000000001 656.40,98.60000000000001" fill="#e4e4e4"/>
<polygon points="659.79,45.8 662.46,45.8 663.96,98.60000000000001 661.29,98.60000000000001" fill="#a2a2a2"/>

<rect x="427.8" y="41" width="236.10000000000002" height="5.0" fill="#a4a4a4"/>
<rect x="427.8" y="98.4" width="236.10000000000002" height="5.0" fill="#a4a4a4"/>
</g>
<path d="M427.80,45.80 L421.99,45.80 C422.22,42.38 422.91,42.00 424.30,42.00 C425.69,42.00 426.38,42.38 426.61,45.80 L430.89,45.80 C431.12,42.38 431.81,42.00 433.20,42.00 C434.59,42.00 435.28,42.38 435.51,45.80 L439.79,45.80 C440.02,42.38 440.71,42.00 442.10,42.00 C443.49,42.00 444.18,42.38 444.41,45.80 L448.69,45.80 C448.92,42.38 449.61,42.00 451.00,42.00 C452.39,42.00 453.08,42.38 453.31,45.80 L457.59,45.80 C457.82,42.38 458.51,42.00 459.90,42.00 C461.29,42.00 461.98,42.38 462.21,45.80 L466.49,45.80 C466.72,42.38 467.41,42.00 468.80,42.00 C470.19,42.00 470.88,42.38 471.11,45.80 L475.39,45.80 C475.62,42.38 476.31,42.00 477.70,42.00 C479.09,42.00 479.78,42.38 480.01,45.80 L484.29,45.80 C484.52,42.38 485.21,42.00 486.60,42.00 C487.99,42.00 488.68,42.38 488.91,45.80 L493.19,45.80 C493.42,42.38 494.11,42.00 495.50,42.00 C496.89,42.00 497.58,42.38 497.81,45.80 L502.09,45.80 C502.32,42.38 503.01,42.00 504.40,42.00 C505.79,42.00 506.48,42.38 506.71,45.80 L510.99,45.80 C511.22,42.38 511.91,42.00 513.30,42.00 C514.69,42.00 515.38,42.38 515.61,45.80 L519.89,45.80 C520.12,42.38 520.81,42.00 522.20,42.00 C523.59,42.00 524.28,42.38 524.51,45.80 L528.79,45.80 C529.02,42.38 529.71,42.00 531.10,42.00 C532.49,42.00 533.18,42.38 533.41,45.80 L537.69,45.80 C537.92,42.38 538.61,42.00 540.00,42.00 C541.39,42.00 542.08,42.38 542.31,45.80 L546.59,45.80 C546.82,42.38 547.51,42.00 548.90,42.00 C550.29,42.00 550.98,42.38 551.21,45.80 L555.49,45.80 C555.72,42.38 556.41,42.00 557.80,42.00 C559.19,42.00 559.88,42.38 560.11,45.80 L564.39,45.80 C564.62,42.38 565.31,42.00 566.70,42.00 C568.09,42.00 568.78,42.38 569.01,45.80 L573.29,45.80 C573.52,42.38 574.21,42.00 575.60,42.00 C576.99,42.00 577.68,42.38 577.91,45.80 L582.19,45.80 C582.42,42.38 583.11,42.00 584.50,42.00 C585.89,42.00 586.58,42.38 586.81,45.80 L591.09,45.80 C591.32,42.38 592.01,42.00 593.40,42.00 C594.79,42.00 595.48,42.38 595.71,45.80 L599.99,45.80 C600.22,42.38 600.91,42.00 602.30,42.00 C603.69,42.00 604.38,42.38 604.61,45.80 L608.89,45.80 C609.12,42.38 609.81,42.00 611.20,42.00 C612.59,42.00 613.28,42.38 613.51,45.80 L617.79,45.80 C618.02,42.38 618.71,42.00 620.10,42.00 C621.49,42.00 622.18,42.38 622.41,45.80 L626.69,45.80 C626.92,42.38 627.61,42.00 629.00,42.00 C630.39,42.00 631.08,42.38 631.31,45.80 L635.59,45.80 C635.82,42.38 636.51,42.00 637.90,42.00 C639.29,42.00 639.98,42.38 640.21,45.80 L644.49,45.80 C644.72,42.38 645.41,42.00 646.80,42.00 C648.19,42.00 648.88,42.38 649.11,45.80 L653.39,45.80 C653.62,42.38 654.31,42.00 655.70,42.00 C657.09,42.00 657.78,42.38 658.01,45.80 L663.90,45.80 L663.90,98.60 L662.21,98.60 C661.98,102.02 661.29,102.40 659.90,102.40 C658.51,102.40 657.82,102.02 657.59,98.60 L653.31,98.60 C653.08,102.02 652.39,102.40 651.00,102.40 C649.61,102.40 648.92,102.02 648.69,98.60 L644.41,98.60 C644.18,102.02 643.49,102.40 642.10,102.40 C640.71,102.40 640.02,102.02 639.79,98.60 L635.51,98.60 C635.28,102.02 634.59,102.40 633.20,102.40 C631.81,102.40 631.12,102.02 630.89,98.60 L626.61,98.60 C626.38,102.02 625.69,102.40 624.30,102.40 C622.91,102.40 622.22,102.02 621.99,98.60 L617.71,98.60 C617.48,102.02 616.79,102.40 615.40,102.40 C614.01,102.40 613.32,102.02 613.09,98.60 L608.81,98.60 C608.58,102.02 607.89,102.40 606.50,102.40 C605.11,102.40 604.42,102.02 604.19,98.60 L599.91,98.60 C599.68,102.02 598.99,102.40 597.60,102.40 C596.21,102.40 595.52,102.02 595.29,98.60 L591.01,98.60 C590.78,102.02 590.09,102.40 588.70,102.40 C587.31,102.40 586.62,102.02 586.39,98.60 L582.11,98.60 C581.88,102.02 581.19,102.40 579.80,102.40 C578.41,102.40 577.72,102.02 577.49,98.60 L573.21,98.60 C572.98,102.02 572.29,102.40 570.90,102.40 C569.51,102.40 568.82,102.02 568.59,98.60 L564.31,98.60 C564.08,102.02 563.39,102.40 562.00,102.40 C560.61,102.40 559.92,102.02 559.69,98.60 L555.41,98.60 C555.18,102.02 554.49,102.40 553.10,102.40 C551.71,102.40 551.02,102.02 550.79,98.60 L546.51,98.60 C546.28,102.02 545.59,102.40 544.20,102.40 C542.81,102.40 542.12,102.02 541.89,98.60 L537.61,98.60 C537.38,102.02 536.69,102.40 535.30,102.40 C533.91,102.40 533.22,102.02 532.99,98.60 L528.71,98.60 C528.48,102.02 527.79,102.40 526.40,102.40 C525.01,102.40 524.32,102.02 524.09,98.60 L519.81,98.60 C519.58,102.02 518.89,102.40 517.50,102.40 C516.11,102.40 515.42,102.02 515.19,98.60 L510.91,98.60 C510.68,102.02 509.99,102.40 508.60,102.40 C507.21,102.40 506.52,102.02 506.29,98.60 L502.01,98.60 C501.78,102.02 501.09,102.40 499.70,102.40 C498.31,102.40 497.62,102.02 497.39,98.60 L493.11,98.60 C492.88,102.02 492.19,102.40 490.80,102.40 C489.41,102.40 488.72,102.02 488.49,98.60 L484.21,98.60 C483.98,102.02 483.29,102.40 481.90,102.40 C480.51,102.40 479.82,102.02 479.59,98.60 L475.31,98.60 C475.08,102.02 474.39,102.40 473.00,102.40 C471.61,102.40 470.92,102.02 470.69,98.60 L466.41,98.60 C466.18,102.02 465.49,102.40 464.10,102.40 C462.71,102.40 462.02,102.02 461.79,98.60 L457.51,98.60 C457.28,102.02 456.59,102.40 455.20,102.40 C453.81,102.40 453.12,102.02 452.89,98.60 L448.61,98.60 C448.38,102.02 447.69,102.40 446.30,102.40 C444.91,102.40 444.22,102.02 443.99,98.60 L439.71,98.60 C439.48,102.02 438.79,102.40 437.40,102.40 C436.01,102.40 435.32,102.02 435.09,98.60 L430.81,98.60 C430.58,102.02 429.89,102.40 428.50,102.40 C427.11,102.40 426.42,102.02 426.19,98.60 L427.80,98.60 Z" fill="none" stroke="#888888" stroke-width="1.4"/>
</g>
<rect x="436.2" y="45.5" width="1.8" height="53.5" fill="#8c8c8c"/>
<rect x="654.6" y="30.8" width="6.4" height="81" fill="#d8d8d8" stroke="#9c9c9c" stroke-width="1.3"/>
<path d="M661,12.6 H698 Q706.4,12.6 706.4,22.6 V120 Q706.4,130 698,130 H661Z" fill="#d9d9d9" stroke="#a6a6a6" stroke-width="1.5"/>
<path d="M661.8,13.4 H697.5 Q704,13.4 704,23 Q704,42.6 697.5,42.6 H661.8Z" fill="#fcfcfc"/>
<path d="M661.8,100.8 H697.5 Q705.6,100.8 705.6,111 V120 Q705.6,129.2 697.5,129.2 H661.8Z" fill="#b0b0b0"/>
<rect x="661" y="42.4" width="45" height="1.6" fill="#acacac"/>
<rect x="661" y="100" width="45" height="1.4" fill="#a4a4a4"/>
</g>
<text x="84.6" y="169" font-size="20" font-weight="bold" fill="#1a1a1a" stroke="#1a1a1a" stroke-width="0.7" letter-spacing="0.6">BOLT</text>
<text x="495" y="170.8" font-size="20" font-weight="bold" fill="#1a1a1a" stroke="#1a1a1a" stroke-width="0.7" letter-spacing="0.3">SET SCREW</text>
<g id="bbolt">
<clipPath id="thr3"><path d="M156.50,337.2 H276.00 L276.00,347.4 V397.2 L276.00,407.4 H152.50 Z"/></clipPath>
<clipPath id="thc3"><path d="M142.10,345.40 L136.83,345.40 C138.14,341.37 139.23,339.20 141.20,339.20 C143.17,339.20 144.26,341.37 145.57,345.40 L147.23,345.40 C148.54,341.37 149.63,339.20 151.60,339.20 C153.57,339.20 154.66,341.37 155.97,345.40 L157.63,345.40 C158.94,341.37 160.03,339.20 162.00,339.20 C163.97,339.20 165.06,341.37 166.37,345.40 L168.03,345.40 C169.34,341.37 170.43,339.20 172.40,339.20 C174.37,339.20 175.46,341.37 176.77,345.40 L178.43,345.40 C179.74,341.37 180.83,339.20 182.80,339.20 C184.77,339.20 185.86,341.37 187.17,345.40 L188.83,345.40 C190.14,341.37 191.23,339.20 193.20,339.20 C195.17,339.20 196.26,341.37 197.57,345.40 L199.23,345.40 C200.54,341.37 201.63,339.20 203.60,339.20 C205.57,339.20 206.66,341.37 207.97,345.40 L209.63,345.40 C210.94,341.37 212.03,339.20 214.00,339.20 C215.97,339.20 217.06,341.37 218.37,345.40 L220.03,345.40 C221.34,341.37 222.43,339.20 224.40,339.20 C226.37,339.20 227.46,341.37 228.77,345.40 L230.43,345.40 C231.74,341.37 232.83,339.20 234.80,339.20 C236.77,339.20 237.86,341.37 239.17,345.40 L240.83,345.40 C242.14,341.37 243.23,339.20 245.20,339.20 C247.17,339.20 248.26,341.37 249.57,345.40 L251.23,345.40 C252.54,341.37 253.63,339.20 255.60,339.20 C257.57,339.20 258.66,341.37 259.97,345.40 L261.63,345.40 C262.94,341.37 264.03,339.20 266.00,339.20 C267.97,339.20 269.06,341.37 270.37,345.40 L272.03,345.40 C273.34,341.37 274.43,339.20 276.40,339.20 C278.37,339.20 279.46,341.37 280.77,345.40 L286.40,345.40 L286.40,399.20 L285.97,399.20 C284.66,403.23 283.57,405.40 281.60,405.40 C279.63,405.40 278.54,403.23 277.23,399.20 L275.57,399.20 C274.26,403.23 273.17,405.40 271.20,405.40 C269.23,405.40 268.14,403.23 266.83,399.20 L265.17,399.20 C263.86,403.23 262.77,405.40 260.80,405.40 C258.83,405.40 257.74,403.23 256.43,399.20 L254.77,399.20 C253.46,403.23 252.37,405.40 250.40,405.40 C248.43,405.40 247.34,403.23 246.03,399.20 L244.37,399.20 C243.06,403.23 241.97,405.40 240.00,405.40 C238.03,405.40 236.94,403.23 235.63,399.20 L233.97,399.20 C232.66,403.23 231.57,405.40 229.60,405.40 C227.63,405.40 226.54,403.23 225.23,399.20 L223.57,399.20 C222.26,403.23 221.17,405.40 219.20,405.40 C217.23,405.40 216.14,403.23 214.83,399.20 L213.17,399.20 C211.86,403.23 210.77,405.40 208.80,405.40 C206.83,405.40 205.74,403.23 204.43,399.20 L202.77,399.20 C201.46,403.23 200.37,405.40 198.40,405.40 C196.43,405.40 195.34,403.23 194.03,399.20 L192.37,399.20 C191.06,403.23 189.97,405.40 188.00,405.40 C186.03,405.40 184.94,403.23 183.63,399.20 L181.97,399.20 C180.66,403.23 179.57,405.40 177.60,405.40 C175.63,405.40 174.54,403.23 173.23,399.20 L171.57,399.20 C170.26,403.23 169.17,405.40 167.20,405.40 C165.23,405.40 164.14,403.23 162.83,399.20 L161.17,399.20 C159.86,403.23 158.77,405.40 156.80,405.40 C154.83,405.40 153.74,403.23 152.43,399.20 L150.77,399.20 C149.46,403.23 148.37,405.40 146.40,405.40 C144.43,405.40 143.34,403.23 142.03,399.20 L142.10,399.20 Z"/></clipPath>
<g clip-path="url(#thr3)">
<path d="M142.10,345.40 L136.83,345.40 C138.14,341.37 139.23,339.20 141.20,339.20 C143.17,339.20 144.26,341.37 145.57,345.40 L147.23,345.40 C148.54,341.37 149.63,339.20 151.60,339.20 C153.57,339.20 154.66,341.37 155.97,345.40 L157.63,345.40 C158.94,341.37 160.03,339.20 162.00,339.20 C163.97,339.20 165.06,341.37 166.37,345.40 L168.03,345.40 C169.34,341.37 170.43,339.20 172.40,339.20 C174.37,339.20 175.46,341.37 176.77,345.40 L178.43,345.40 C179.74,341.37 180.83,339.20 182.80,339.20 C184.77,339.20 185.86,341.37 187.17,345.40 L188.83,345.40 C190.14,341.37 191.23,339.20 193.20,339.20 C195.17,339.20 196.26,341.37 197.57,345.40 L199.23,345.40 C200.54,341.37 201.63,339.20 203.60,339.20 C205.57,339.20 206.66,341.37 207.97,345.40 L209.63,345.40 C210.94,341.37 212.03,339.20 214.00,339.20 C215.97,339.20 217.06,341.37 218.37,345.40 L220.03,345.40 C221.34,341.37 222.43,339.20 224.40,339.20 C226.37,339.20 227.46,341.37 228.77,345.40 L230.43,345.40 C231.74,341.37 232.83,339.20 234.80,339.20 C236.77,339.20 237.86,341.37 239.17,345.40 L240.83,345.40 C242.14,341.37 243.23,339.20 245.20,339.20 C247.17,339.20 248.26,341.37 249.57,345.40 L251.23,345.40 C252.54,341.37 253.63,339.20 255.60,339.20 C257.57,339.20 258.66,341.37 259.97,345.40 L261.63,345.40 C262.94,341.37 264.03,339.20 266.00,339.20 C267.97,339.20 269.06,341.37 270.37,345.40 L272.03,345.40 C273.34,341.37 274.43,339.20 276.40,339.20 C278.37,339.20 279.46,341.37 280.77,345.40 L286.40,345.40 L286.40,399.20 L285.97,399.20 C284.66,403.23 283.57,405.40 281.60,405.40 C279.63,405.40 278.54,403.23 277.23,399.20 L275.57,399.20 C274.26,403.23 273.17,405.40 271.20,405.40 C269.23,405.40 268.14,403.23 266.83,399.20 L265.17,399.20 C263.86,403.23 262.77,405.40 260.80,405.40 C258.83,405.40 257.74,403.23 256.43,399.20 L254.77,399.20 C253.46,403.23 252.37,405.40 250.40,405.40 C248.43,405.40 247.34,403.23 246.03,399.20 L244.37,399.20 C243.06,403.23 241.97,405.40 240.00,405.40 C238.03,405.40 236.94,403.23 235.63,399.20 L233.97,399.20 C232.66,403.23 231.57,405.40 229.60,405.40 C227.63,405.40 226.54,403.23 225.23,399.20 L223.57,399.20 C222.26,403.23 221.17,405.40 219.20,405.40 C217.23,405.40 216.14,403.23 214.83,399.20 L213.17,399.20 C211.86,403.23 210.77,405.40 208.80,405.40 C206.83,405.40 205.74,403.23 204.43,399.20 L202.77,399.20 C201.46,403.23 200.37,405.40 198.40,405.40 C196.43,405.40 195.34,403.23 194.03,399.20 L192.37,399.20 C191.06,403.23 189.97,405.40 188.00,405.40 C186.03,405.40 184.94,403.23 183.63,399.20 L181.97,399.20 C180.66,403.23 179.57,405.40 177.60,405.40 C175.63,405.40 174.54,403.23 173.23,399.20 L171.57,399.20 C170.26,403.23 169.17,405.40 167.20,405.40 C165.23,405.40 164.14,403.23 162.83,399.20 L161.17,399.20 C159.86,403.23 158.77,405.40 156.80,405.40 C154.83,405.40 153.74,403.23 152.43,399.20 L150.77,399.20 C149.46,403.23 148.37,405.40 146.40,405.40 C144.43,405.40 143.34,403.23 142.03,399.20 L142.10,399.20 Z" fill="url(#thrB)"/>
<g clip-path="url(#thc3)">
<polygon points="139.95,345.4 143.07,345.4 144.07,399.2 140.95,399.2" fill="#808080"/>
<polygon points="145.88,345.4 147.75,345.4 148.75,399.2 146.88,399.2" fill="#3a3a3a"/>
<polygon points="150.35,345.4 153.47,345.4 154.47,399.2 151.35,399.2" fill="#808080"/>
<polygon points="156.28,345.4 158.15,345.4 159.15,399.2 157.28,399.2" fill="#3a3a3a"/>
<polygon points="160.75,345.4 163.87,345.4 164.87,399.2 161.75,399.2" fill="#808080"/>
<polygon points="166.68,345.4 168.55,345.4 169.55,399.2 167.68,399.2" fill="#3a3a3a"/>
<polygon points="171.15,345.4 174.27,345.4 175.27,399.2 172.15,399.2" fill="#808080"/>
<polygon points="177.08,345.4 178.95,345.4 179.95,399.2 178.08,399.2" fill="#3a3a3a"/>
<polygon points="181.55,345.4 184.67,345.4 185.67,399.2 182.55,399.2" fill="#808080"/>
<polygon points="187.48,345.4 189.35,345.4 190.35,399.2 188.48,399.2" fill="#3a3a3a"/>
<polygon points="191.95,345.4 195.07,345.4 196.07,399.2 192.95,399.2" fill="#808080"/>
<polygon points="197.88,345.4 199.75,345.4 200.75,399.2 198.88,399.2" fill="#3a3a3a"/>
<polygon points="202.35,345.4 205.47,345.4 206.47,399.2 203.35,399.2" fill="#808080"/>
<polygon points="208.28,345.4 210.15,345.4 211.15,399.2 209.28,399.2" fill="#3a3a3a"/>
<polygon points="212.75,345.4 215.87,345.4 216.87,399.2 213.75,399.2" fill="#808080"/>
<polygon points="218.68,345.4 220.55,345.4 221.55,399.2 219.68,399.2" fill="#3a3a3a"/>
<polygon points="223.15,345.4 226.27,345.4 227.27,399.2 224.15,399.2" fill="#808080"/>
<polygon points="229.08,345.4 230.95,345.4 231.95,399.2 230.08,399.2" fill="#3a3a3a"/>
<polygon points="233.55,345.4 236.67,345.4 237.67,399.2 234.55,399.2" fill="#808080"/>
<polygon points="239.48,345.4 241.35,345.4 242.35,399.2 240.48,399.2" fill="#3a3a3a"/>
<polygon points="243.95,345.4 247.07,345.4 248.07,399.2 244.95,399.2" fill="#808080"/>
<polygon points="249.88,345.4 251.75,345.4 252.75,399.2 250.88,399.2" fill="#3a3a3a"/>
<polygon points="254.35,345.4 257.47,345.4 258.47,399.2 255.35,399.2" fill="#808080"/>
<polygon points="260.28,345.4 262.15,345.4 263.15,399.2 261.28,399.2" fill="#3a3a3a"/>
<polygon points="264.75,345.4 267.87,345.4 268.87,399.2 265.75,399.2" fill="#808080"/>
<polygon points="270.68,345.4 272.55,345.4 273.55,399.2 271.68,399.2" fill="#3a3a3a"/>
<polygon points="275.15,345.4 278.27,345.4 279.27,399.2 276.15,399.2" fill="#808080"/>
<polygon points="281.08,345.4 282.95,345.4 283.95,399.2 282.08,399.2" fill="#3a3a3a"/>

</g>
<path d="M142.10,345.40 L136.83,345.40 C138.14,341.37 139.23,339.20 141.20,339.20 C143.17,339.20 144.26,341.37 145.57,345.40 L147.23,345.40 C148.54,341.37 149.63,339.20 151.60,339.20 C153.57,339.20 154.66,341.37 155.97,345.40 L157.63,345.40 C158.94,341.37 160.03,339.20 162.00,339.20 C163.97,339.20 165.06,341.37 166.37,345.40 L168.03,345.40 C169.34,341.37 170.43,339.20 172.40,339.20 C174.37,339.20 175.46,341.37 176.77,345.40 L178.43,345.40 C179.74,341.37 180.83,339.20 182.80,339.20 C184.77,339.20 185.86,341.37 187.17,345.40 L188.83,345.40 C190.14,341.37 191.23,339.20 193.20,339.20 C195.17,339.20 196.26,341.37 197.57,345.40 L199.23,345.40 C200.54,341.37 201.63,339.20 203.60,339.20 C205.57,339.20 206.66,341.37 207.97,345.40 L209.63,345.40 C210.94,341.37 212.03,339.20 214.00,339.20 C215.97,339.20 217.06,341.37 218.37,345.40 L220.03,345.40 C221.34,341.37 222.43,339.20 224.40,339.20 C226.37,339.20 227.46,341.37 228.77,345.40 L230.43,345.40 C231.74,341.37 232.83,339.20 234.80,339.20 C236.77,339.20 237.86,341.37 239.17,345.40 L240.83,345.40 C242.14,341.37 243.23,339.20 245.20,339.20 C247.17,339.20 248.26,341.37 249.57,345.40 L251.23,345.40 C252.54,341.37 253.63,339.20 255.60,339.20 C257.57,339.20 258.66,341.37 259.97,345.40 L261.63,345.40 C262.94,341.37 264.03,339.20 266.00,339.20 C267.97,339.20 269.06,341.37 270.37,345.40 L272.03,345.40 C273.34,341.37 274.43,339.20 276.40,339.20 C278.37,339.20 279.46,341.37 280.77,345.40 L286.40,345.40 L286.40,399.20 L285.97,399.20 C284.66,403.23 283.57,405.40 281.60,405.40 C279.63,405.40 278.54,403.23 277.23,399.20 L275.57,399.20 C274.26,403.23 273.17,405.40 271.20,405.40 C269.23,405.40 268.14,403.23 266.83,399.20 L265.17,399.20 C263.86,403.23 262.77,405.40 260.80,405.40 C258.83,405.40 257.74,403.23 256.43,399.20 L254.77,399.20 C253.46,403.23 252.37,405.40 250.40,405.40 C248.43,405.40 247.34,403.23 246.03,399.20 L244.37,399.20 C243.06,403.23 241.97,405.40 240.00,405.40 C238.03,405.40 236.94,403.23 235.63,399.20 L233.97,399.20 C232.66,403.23 231.57,405.40 229.60,405.40 C227.63,405.40 226.54,403.23 225.23,399.20 L223.57,399.20 C222.26,403.23 221.17,405.40 219.20,405.40 C217.23,405.40 216.14,403.23 214.83,399.20 L213.17,399.20 C211.86,403.23 210.77,405.40 208.80,405.40 C206.83,405.40 205.74,403.23 204.43,399.20 L202.77,399.20 C201.46,403.23 200.37,405.40 198.40,405.40 C196.43,405.40 195.34,403.23 194.03,399.20 L192.37,399.20 C191.06,403.23 189.97,405.40 188.00,405.40 C186.03,405.40 184.94,403.23 183.63,399.20 L181.97,399.20 C180.66,403.23 179.57,405.40 177.60,405.40 C175.63,405.40 174.54,403.23 173.23,399.20 L171.57,399.20 C170.26,403.23 169.17,405.40 167.20,405.40 C165.23,405.40 164.14,403.23 162.83,399.20 L161.17,399.20 C159.86,403.23 158.77,405.40 156.80,405.40 C154.83,405.40 153.74,403.23 152.43,399.20 L150.77,399.20 C149.46,403.23 148.37,405.40 146.40,405.40 C144.43,405.40 143.34,403.23 142.03,399.20 L142.10,399.20 Z" fill="none" stroke="#2a2a2a" stroke-width="0.8"/>
</g>
<clipPath id="thr4"><path d="M333.00,337.2 H438.00 L438.00,347.4 V397.2 L438.00,407.4 H333.00 Z"/></clipPath>
<clipPath id="thc4"><path d="M322.60,345.40 L314.03,345.40 C315.34,341.37 316.43,339.20 318.40,339.20 C320.37,339.20 321.46,341.37 322.77,345.40 L324.43,345.40 C325.74,341.37 326.83,339.20 328.80,339.20 C330.77,339.20 331.86,341.37 333.17,345.40 L334.83,345.40 C336.14,341.37 337.23,339.20 339.20,339.20 C341.17,339.20 342.26,341.37 343.57,345.40 L345.23,345.40 C346.54,341.37 347.63,339.20 349.60,339.20 C351.57,339.20 352.66,341.37 353.97,345.40 L355.63,345.40 C356.94,341.37 358.03,339.20 360.00,339.20 C361.97,339.20 363.06,341.37 364.37,345.40 L366.03,345.40 C367.34,341.37 368.43,339.20 370.40,339.20 C372.37,339.20 373.46,341.37 374.77,345.40 L376.43,345.40 C377.74,341.37 378.83,339.20 380.80,339.20 C382.77,339.20 383.86,341.37 385.17,345.40 L386.83,345.40 C388.14,341.37 389.23,339.20 391.20,339.20 C393.17,339.20 394.26,341.37 395.57,345.40 L397.23,345.40 C398.54,341.37 399.63,339.20 401.60,339.20 C403.57,339.20 404.66,341.37 405.97,345.40 L407.63,345.40 C408.94,341.37 410.03,339.20 412.00,339.20 C413.97,339.20 415.06,341.37 416.37,345.40 L418.03,345.40 C419.34,341.37 420.43,339.20 422.40,339.20 C424.37,339.20 425.46,341.37 426.77,345.40 L428.43,345.40 C429.74,341.37 430.83,339.20 432.80,339.20 C434.77,339.20 435.86,341.37 437.17,345.40 L438.83,345.40 C440.14,341.37 441.23,339.20 443.20,339.20 C445.17,339.20 446.26,341.37 447.57,345.40 L448.40,345.40 L448.40,399.20 L452.77,399.20 C451.46,403.23 450.37,405.40 448.40,405.40 C446.43,405.40 445.34,403.23 444.03,399.20 L442.37,399.20 C441.06,403.23 439.97,405.40 438.00,405.40 C436.03,405.40 434.94,403.23 433.63,399.20 L431.97,399.20 C430.66,403.23 429.57,405.40 427.60,405.40 C425.63,405.40 424.54,403.23 423.23,399.20 L421.57,399.20 C420.26,403.23 419.17,405.40 417.20,405.40 C415.23,405.40 414.14,403.23 412.83,399.20 L411.17,399.20 C409.86,403.23 408.77,405.40 406.80,405.40 C404.83,405.40 403.74,403.23 402.43,399.20 L400.77,399.20 C399.46,403.23 398.37,405.40 396.40,405.40 C394.43,405.40 393.34,403.23 392.03,399.20 L390.37,399.20 C389.06,403.23 387.97,405.40 386.00,405.40 C384.03,405.40 382.94,403.23 381.63,399.20 L379.97,399.20 C378.66,403.23 377.57,405.40 375.60,405.40 C373.63,405.40 372.54,403.23 371.23,399.20 L369.57,399.20 C368.26,403.23 367.17,405.40 365.20,405.40 C363.23,405.40 362.14,403.23 360.83,399.20 L359.17,399.20 C357.86,403.23 356.77,405.40 354.80,405.40 C352.83,405.40 351.74,403.23 350.43,399.20 L348.77,399.20 C347.46,403.23 346.37,405.40 344.40,405.40 C342.43,405.40 341.34,403.23 340.03,399.20 L338.37,399.20 C337.06,403.23 335.97,405.40 334.00,405.40 C332.03,405.40 330.94,403.23 329.63,399.20 L327.97,399.20 C326.66,403.23 325.57,405.40 323.60,405.40 C321.63,405.40 320.54,403.23 319.23,399.20 L322.60,399.20 Z"/></clipPath>
<g clip-path="url(#thr4)">
<path d="M322.60,345.40 L314.03,345.40 C315.34,341.37 316.43,339.20 318.40,339.20 C320.37,339.20 321.46,341.37 322.77,345.40 L324.43,345.40 C325.74,341.37 326.83,339.20 328.80,339.20 C330.77,339.20 331.86,341.37 333.17,345.40 L334.83,345.40 C336.14,341.37 337.23,339.20 339.20,339.20 C341.17,339.20 342.26,341.37 343.57,345.40 L345.23,345.40 C346.54,341.37 347.63,339.20 349.60,339.20 C351.57,339.20 352.66,341.37 353.97,345.40 L355.63,345.40 C356.94,341.37 358.03,339.20 360.00,339.20 C361.97,339.20 363.06,341.37 364.37,345.40 L366.03,345.40 C367.34,341.37 368.43,339.20 370.40,339.20 C372.37,339.20 373.46,341.37 374.77,345.40 L376.43,345.40 C377.74,341.37 378.83,339.20 380.80,339.20 C382.77,339.20 383.86,341.37 385.17,345.40 L386.83,345.40 C388.14,341.37 389.23,339.20 391.20,339.20 C393.17,339.20 394.26,341.37 395.57,345.40 L397.23,345.40 C398.54,341.37 399.63,339.20 401.60,339.20 C403.57,339.20 404.66,341.37 405.97,345.40 L407.63,345.40 C408.94,341.37 410.03,339.20 412.00,339.20 C413.97,339.20 415.06,341.37 416.37,345.40 L418.03,345.40 C419.34,341.37 420.43,339.20 422.40,339.20 C424.37,339.20 425.46,341.37 426.77,345.40 L428.43,345.40 C429.74,341.37 430.83,339.20 432.80,339.20 C434.77,339.20 435.86,341.37 437.17,345.40 L438.83,345.40 C440.14,341.37 441.23,339.20 443.20,339.20 C445.17,339.20 446.26,341.37 447.57,345.40 L448.40,345.40 L448.40,399.20 L452.77,399.20 C451.46,403.23 450.37,405.40 448.40,405.40 C446.43,405.40 445.34,403.23 444.03,399.20 L442.37,399.20 C441.06,403.23 439.97,405.40 438.00,405.40 C436.03,405.40 434.94,403.23 433.63,399.20 L431.97,399.20 C430.66,403.23 429.57,405.40 427.60,405.40 C425.63,405.40 424.54,403.23 423.23,399.20 L421.57,399.20 C420.26,403.23 419.17,405.40 417.20,405.40 C415.23,405.40 414.14,403.23 412.83,399.20 L411.17,399.20 C409.86,403.23 408.77,405.40 406.80,405.40 C404.83,405.40 403.74,403.23 402.43,399.20 L400.77,399.20 C399.46,403.23 398.37,405.40 396.40,405.40 C394.43,405.40 393.34,403.23 392.03,399.20 L390.37,399.20 C389.06,403.23 387.97,405.40 386.00,405.40 C384.03,405.40 382.94,403.23 381.63,399.20 L379.97,399.20 C378.66,403.23 377.57,405.40 375.60,405.40 C373.63,405.40 372.54,403.23 371.23,399.20 L369.57,399.20 C368.26,403.23 367.17,405.40 365.20,405.40 C363.23,405.40 362.14,403.23 360.83,399.20 L359.17,399.20 C357.86,403.23 356.77,405.40 354.80,405.40 C352.83,405.40 351.74,403.23 350.43,399.20 L348.77,399.20 C347.46,403.23 346.37,405.40 344.40,405.40 C342.43,405.40 341.34,403.23 340.03,399.20 L338.37,399.20 C337.06,403.23 335.97,405.40 334.00,405.40 C332.03,405.40 330.94,403.23 329.63,399.20 L327.97,399.20 C326.66,403.23 325.57,405.40 323.60,405.40 C321.63,405.40 320.54,403.23 319.23,399.20 L322.60,399.20 Z" fill="url(#thrB)"/>
<g clip-path="url(#thc4)">
<polygon points="317.15,345.4 320.27,345.4 321.27,399.2 318.15,399.2" fill="#808080"/>
<polygon points="323.08,345.4 324.95,345.4 325.95,399.2 324.08,399.2" fill="#3a3a3a"/>
<polygon points="327.55,345.4 330.67,345.4 331.67,399.2 328.55,399.2" fill="#808080"/>
<polygon points="333.48,345.4 335.35,345.4 336.35,399.2 334.48,399.2" fill="#3a3a3a"/>
<polygon points="337.95,345.4 341.07,345.4 342.07,399.2 338.95,399.2" fill="#808080"/>
<polygon points="343.88,345.4 345.75,345.4 346.75,399.2 344.88,399.2" fill="#3a3a3a"/>
<polygon points="348.35,345.4 351.47,345.4 352.47,399.2 349.35,399.2" fill="#808080"/>
<polygon points="354.28,345.4 356.15,345.4 357.15,399.2 355.28,399.2" fill="#3a3a3a"/>
<polygon points="358.75,345.4 361.87,345.4 362.87,399.2 359.75,399.2" fill="#808080"/>
<polygon points="364.68,345.4 366.55,345.4 367.55,399.2 365.68,399.2" fill="#3a3a3a"/>
<polygon points="369.15,345.4 372.27,345.4 373.27,399.2 370.15,399.2" fill="#808080"/>
<polygon points="375.08,345.4 376.95,345.4 377.95,399.2 376.08,399.2" fill="#3a3a3a"/>
<polygon points="379.55,345.4 382.67,345.4 383.67,399.2 380.55,399.2" fill="#808080"/>
<polygon points="385.48,345.4 387.35,345.4 388.35,399.2 386.48,399.2" fill="#3a3a3a"/>
<polygon points="389.95,345.4 393.07,345.4 394.07,399.2 390.95,399.2" fill="#808080"/>
<polygon points="395.88,345.4 397.75,345.4 398.75,399.2 396.88,399.2" fill="#3a3a3a"/>
<polygon points="400.35,345.4 403.47,345.4 404.47,399.2 401.35,399.2" fill="#808080"/>
<polygon points="406.28,345.4 408.15,345.4 409.15,399.2 407.28,399.2" fill="#3a3a3a"/>
<polygon points="410.75,345.4 413.87,345.4 414.87,399.2 411.75,399.2" fill="#808080"/>
<polygon points="416.68,345.4 418.55,345.4 419.55,399.2 417.68,399.2" fill="#3a3a3a"/>
<polygon points="421.15,345.4 424.27,345.4 425.27,399.2 422.15,399.2" fill="#808080"/>
<polygon points="427.08,345.4 428.95,345.4 429.95,399.2 428.08,399.2" fill="#3a3a3a"/>
<polygon points="431.55,345.4 434.67,345.4 435.67,399.2 432.55,399.2" fill="#808080"/>
<polygon points="437.48,345.4 439.35,345.4 440.35,399.2 438.48,399.2" fill="#3a3a3a"/>
<polygon points="441.95,345.4 445.07,345.4 446.07,399.2 442.95,399.2" fill="#808080"/>
<polygon points="447.88,345.4 449.75,345.4 450.75,399.2 448.88,399.2" fill="#3a3a3a"/>

</g>
<path d="M322.60,345.40 L314.03,345.40 C315.34,341.37 316.43,339.20 318.40,339.20 C320.37,339.20 321.46,341.37 322.77,345.40 L324.43,345.40 C325.74,341.37 326.83,339.20 328.80,339.20 C330.77,339.20 331.86,341.37 333.17,345.40 L334.83,345.40 C336.14,341.37 337.23,339.20 339.20,339.20 C341.17,339.20 342.26,341.37 343.57,345.40 L345.23,345.40 C346.54,341.37 347.63,339.20 349.60,339.20 C351.57,339.20 352.66,341.37 353.97,345.40 L355.63,345.40 C356.94,341.37 358.03,339.20 360.00,339.20 C361.97,339.20 363.06,341.37 364.37,345.40 L366.03,345.40 C367.34,341.37 368.43,339.20 370.40,339.20 C372.37,339.20 373.46,341.37 374.77,345.40 L376.43,345.40 C377.74,341.37 378.83,339.20 380.80,339.20 C382.77,339.20 383.86,341.37 385.17,345.40 L386.83,345.40 C388.14,341.37 389.23,339.20 391.20,339.20 C393.17,339.20 394.26,341.37 395.57,345.40 L397.23,345.40 C398.54,341.37 399.63,339.20 401.60,339.20 C403.57,339.20 404.66,341.37 405.97,345.40 L407.63,345.40 C408.94,341.37 410.03,339.20 412.00,339.20 C413.97,339.20 415.06,341.37 416.37,345.40 L418.03,345.40 C419.34,341.37 420.43,339.20 422.40,339.20 C424.37,339.20 425.46,341.37 426.77,345.40 L428.43,345.40 C429.74,341.37 430.83,339.20 432.80,339.20 C434.77,339.20 435.86,341.37 437.17,345.40 L438.83,345.40 C440.14,341.37 441.23,339.20 443.20,339.20 C445.17,339.20 446.26,341.37 447.57,345.40 L448.40,345.40 L448.40,399.20 L452.77,399.20 C451.46,403.23 450.37,405.40 448.40,405.40 C446.43,405.40 445.34,403.23 444.03,399.20 L442.37,399.20 C441.06,403.23 439.97,405.40 438.00,405.40 C436.03,405.40 434.94,403.23 433.63,399.20 L431.97,399.20 C430.66,403.23 429.57,405.40 427.60,405.40 C425.63,405.40 424.54,403.23 423.23,399.20 L421.57,399.20 C420.26,403.23 419.17,405.40 417.20,405.40 C415.23,405.40 414.14,403.23 412.83,399.20 L411.17,399.20 C409.86,403.23 408.77,405.40 406.80,405.40 C404.83,405.40 403.74,403.23 402.43,399.20 L400.77,399.20 C399.46,403.23 398.37,405.40 396.40,405.40 C394.43,405.40 393.34,403.23 392.03,399.20 L390.37,399.20 C389.06,403.23 387.97,405.40 386.00,405.40 C384.03,405.40 382.94,403.23 381.63,399.20 L379.97,399.20 C378.66,403.23 377.57,405.40 375.60,405.40 C373.63,405.40 372.54,403.23 371.23,399.20 L369.57,399.20 C368.26,403.23 367.17,405.40 365.20,405.40 C363.23,405.40 362.14,403.23 360.83,399.20 L359.17,399.20 C357.86,403.23 356.77,405.40 354.80,405.40 C352.83,405.40 351.74,403.23 350.43,399.20 L348.77,399.20 C347.46,403.23 346.37,405.40 344.40,405.40 C342.43,405.40 341.34,403.23 340.03,399.20 L338.37,399.20 C337.06,403.23 335.97,405.40 334.00,405.40 C332.03,405.40 330.94,403.23 329.63,399.20 L327.97,399.20 C326.66,403.23 325.57,405.40 323.60,405.40 C321.63,405.40 320.54,403.23 319.23,399.20 L322.60,399.20 Z" fill="none" stroke="#2a2a2a" stroke-width="0.8"/>
</g>
<path d="M436,346 Q438,339 444,339 H564 V406 H444 Q438,406 436,399Z" fill="url(#shankB)"/>
<path d="M285,314.2 H323 Q325,314.2 326,316 L332.5,329.5 V416 L326,429.2 Q325,431 323,431 H285 Q283,431 282,429.2 L275.4,416 V329.5 L282,316 Q283,314.2 285,314.2Z" fill="#585858"/>
<path d="M285.3,344.2 H323 C330,350 330,396 323,402.3 H285.3 C278.3,396 278.3,350 285.3,344.2 Z" fill="#d4d4d4"/>
<polygon points="564,314 596.7,314 605,328 605,414.7 596.7,431.5 564,431.5" fill="#565656"/>
<path d="M564,343.4 H595 Q601,372 595,402 H564Z" fill="#d6d6d6"/>
</g>
<g stroke="#505050" stroke-width="1.25">
<line x1="173.9" y1="250.4" x2="196.8" y2="335.7"/>
<line x1="256" y1="249.4" x2="282" y2="310.7"/>
<line x1="339.7" y1="248.7" x2="440.7" y2="337"/>
<line x1="423.2" y1="251.6" x2="499" y2="335"/>
<line x1="506.7" y1="249.7" x2="561" y2="335"/>
<line x1="586.3" y1="251.6" x2="578.5" y2="308"/>
</g>
<g font-size="17" fill="#262626" stroke="#262626" stroke-width="0.55">
<text x="153.3" y="244.2">thread</text>
<text x="245" y="244.2">nut</text>
<text x="315" y="244.2">runout</text>
<text x="402.6" y="244.2">shank</text>
<text x="486" y="244.2">radius</text>
<text x="569" y="244.2">head</text>
</g>
<g>
<rect x="151.2" y="416.4" width="2" height="67.2" fill="#8a8a8a"/>
<rect x="439.8" y="413.6" width="1.5" height="41.2" fill="#4a4a4a"/>
<rect x="563.2" y="439" width="2" height="43" fill="#8a8a8a"/>
<g stroke="#2a2a2a" stroke-width="1.6">
<line x1="153" y1="446.8" x2="182.6" y2="446.8"/>
<line x1="295" y1="446.8" x2="438" y2="446.8"/>
<line x1="442" y1="446.8" x2="455.9" y2="446.8"/>
<line x1="544.4" y1="446.6" x2="562" y2="446.6"/>
<line x1="153" y1="475.4" x2="424" y2="475.4"/>
<line x1="544.4" y1="475.2" x2="562" y2="475.2"/>
</g>
<polygon points="153,446.8 161,443.6 161,450.0" fill="#111"/>
<polygon points="439.2,446.8 431.2,443.6 431.2,450.0" fill="#111"/>
<polygon points="441.5,446.8 449.5,443.6 449.5,450.0" fill="#111"/>
<polygon points="563,446.6 555,443.40000000000003 555,449.8" fill="#111"/>
<polygon points="153,475.4 161,472.2 161,478.59999999999997" fill="#111"/>
<polygon points="563,475.2 555,472.0 555,478.4" fill="#111"/>
<g font-size="17" fill="#262626" stroke="#262626" stroke-width="0.55">
<text x="187.3" y="450.2">thread length</text>
<text x="461.4" y="450.1">grip length</text>
<text x="430.3" y="478.3">nominal length</text>
</g>
</g>
<clipPath id="xclip"><rect x="340" y="170" width="180" height="56.5"/><rect x="340" y="264" width="180" height="70"/></clipPath>
<g id="wm" opacity="0.62">
<text x="229.3" y="263.2" font-size="62.5" font-style="italic" fill="#a89974">Fixa</text>
<circle cx="426.3" cy="248.6" r="67.3" fill="none" stroke="#ab9d76" stroke-width="7"/>
<circle cx="426.3" cy="248.6" r="67.3" fill="none" stroke="#d3cbb5" stroke-width="2.4"/>
<g clip-path="url(#xclip)">
<line x1="443.27" y1="265.57" x2="472.26" y2="294.56" stroke="#aea07b" stroke-width="6.5"/>
<line x1="443.27" y1="265.57" x2="472.26" y2="294.56" stroke="#d2c8b2" stroke-width="2.2"/>
<line x1="409.33" y1="265.57" x2="380.34" y2="294.56" stroke="#aea07b" stroke-width="6.5"/>
<line x1="409.33" y1="265.57" x2="380.34" y2="294.56" stroke="#d2c8b2" stroke-width="2.2"/>
<line x1="409.33" y1="231.63" x2="380.34" y2="202.64" stroke="#aea07b" stroke-width="6.5"/>
<line x1="409.33" y1="231.63" x2="380.34" y2="202.64" stroke="#d2c8b2" stroke-width="2.2"/>
<line x1="443.27" y1="231.63" x2="472.26" y2="202.64" stroke="#aea07b" stroke-width="6.5"/>
<line x1="443.27" y1="231.63" x2="472.26" y2="202.64" stroke="#d2c8b2" stroke-width="2.2"/>
</g>
<g fill="#ae9e78" stroke="#98885a" stroke-width="1.4" stroke-linejoin="round">
<path d="M383.5,226 H394.8 L392,234.8 H404.5 C407.2,234.8 407.4,236.8 406.6,239 L399.2,259 C398.2,261.6 396.7,262.2 394,262.2 H370.7 Z"/>
<path d="M402.5,234.8 H447.8 L437.6,262.2 H408 C404.2,262.2 403.2,260 404.2,257 L407.5,248 C408.8,245 411,244.5 414,244.5 H433.6 L435.6,240.3 H400.8 Z"/>
<path d="M457.6,225.8 H469.5 L457.5,263.4 H446 Z"/>
<path d="M472.9,225.8 H484.9 L473.4,263.4 H461.9 Z"/>
</g>
<g fill="#f2efe5">
<path d="M395,239.5 H400.8 L394,257.5 H388.2 Z"/>
<path d="M414.5,249.2 H429.8 L426.6,257.6 H411.6 Z"/>
</g>
<g fill="#e4ddcd">
<path d="M386.2,229 H389.6 L378.6,259.6 H375.2 Z"/>
<path d="M460.3,229 H463.6 L452.1,260.6 H448.8 Z"/>
<path d="M475.6,229 H478.9 L467.4,260.6 H464.1 Z"/>
<path d="M441.6,237.6 H444.6 L434.6,259.6 H431.6 Z"/>
<path d="M405.5,237 H439 L438.3,238.6 H404.8 Z"/>
</g>
</g>
</g></svg></body></html>
